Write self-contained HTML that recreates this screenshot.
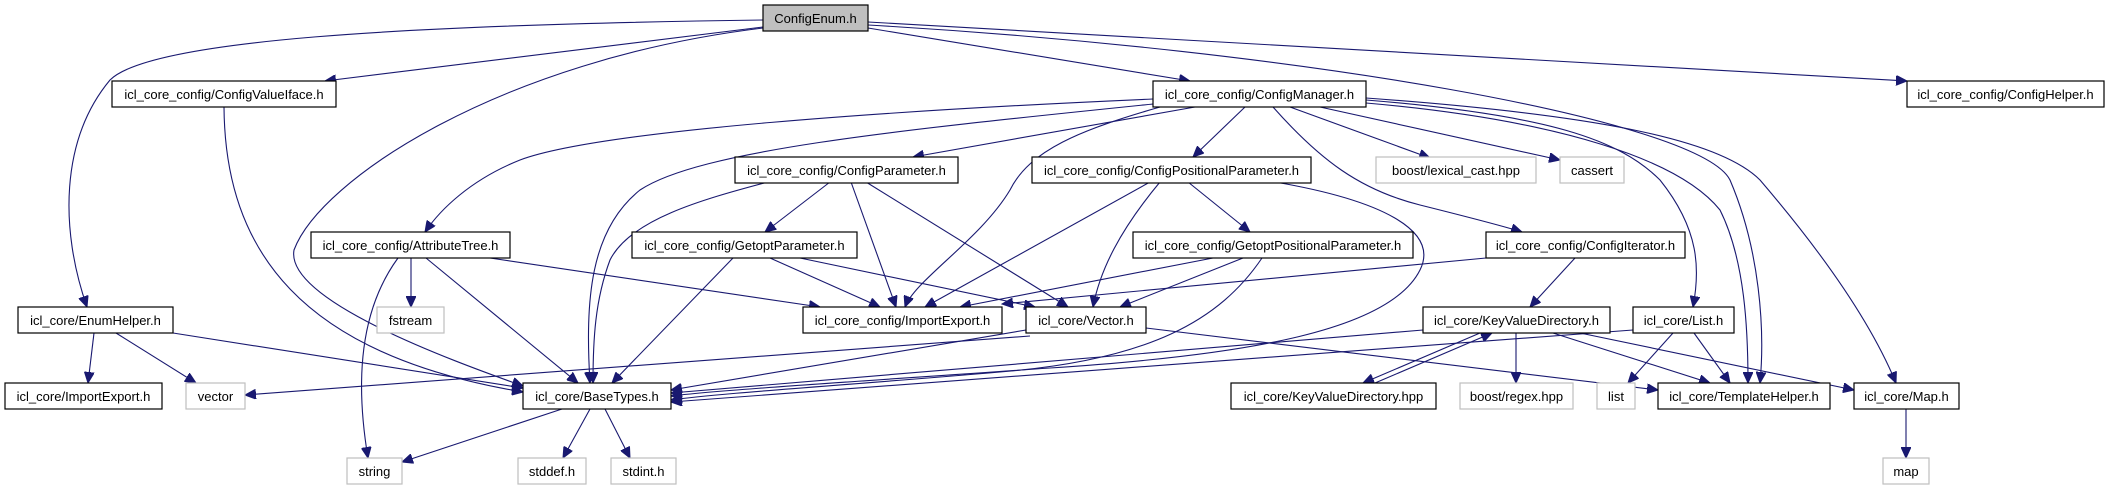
<!DOCTYPE html>
<html><head><meta charset="utf-8"><style>
html,body{margin:0;padding:0;background:#fff}
svg{display:block}
text{font-family:"Liberation Sans",sans-serif;font-size:13px;fill:#000}
.e{fill:none;stroke:#191970;stroke-width:1.1}
.b{fill:#fff;stroke:#000;stroke-width:1.2}
.g{fill:#fff;stroke:#bfbfbf;stroke-width:1.2}
</style></head><body>
<svg width="2123" height="485" viewBox="0 0 2123 485" xmlns="http://www.w3.org/2000/svg">
<defs><marker id="a" markerUnits="userSpaceOnUse" markerWidth="12" markerHeight="10" refX="11" refY="5" orient="auto"><path d="M0,0 L11,5 L0,10 z" fill="#191970" stroke="#191970"/></marker></defs>
<g class="e" marker-end="url(#a)">
<path d="M763,20 C400,25 150,40 110,80 C60,140 60,230 87,307"/>
<path d="M763,27 L325,81"/>
<path d="M763,28 C500,60 320,180 294,250 C285,300 450,360 523,386"/>
<path d="M868,28 L1190,81"/>
<path d="M868,22 L1907,81"/>
<path d="M868,25 C1300,50 1700,120 1730,180 C1760,250 1765,330 1760,383"/>
<path d="M224,107 C225,250 300,355 523,392"/>
<path d="M1153,99 C900,110 600,130 520,160 C470,180 440,210 425,232"/>
<path d="M1153,104 C900,130 700,150 640,190 C590,230 585,300 590,383"/>
<path d="M1160,107 C1080,130 1030,150 1010,190 C980,240 915,280 905,307"/>
<path d="M1195,107 L913,157"/>
<path d="M1245,107 L1193,157"/>
<path d="M1290,107 L1430,158"/>
<path d="M1320,107 L1560,160"/>
<path d="M1273,107 C1320,160 1360,190 1420,205 C1460,215 1500,225 1522,232"/>
<path d="M1366,100 C1550,115 1620,140 1660,180 C1700,230 1700,270 1693,307"/>
<path d="M1366,103 C1560,120 1680,160 1720,210 C1745,260 1748,330 1748,383"/>
<path d="M1366,98 C1600,115 1720,140 1760,180 C1820,250 1870,320 1896,383"/>
<path d="M830,182 L765,232"/>
<path d="M851,182 L896,307"/>
<path d="M866,182 L1068,307"/>
<path d="M768,182 C700,200 630,220 610,260 C595,300 593,340 593,383"/>
<path d="M1150,182 L925,307"/>
<path d="M1160,182 C1120,230 1100,270 1093,307"/>
<path d="M1188,182 L1250,232"/>
<path d="M1275,182 C1380,200 1440,230 1420,270 C1390,330 1250,355 1050,368 C850,382 720,390 671,396"/>
<path d="M411,258 L411,307"/>
<path d="M398,258 C360,310 355,380 368,458"/>
<path d="M426,258 L578,383"/>
<path d="M490,258 L820,307"/>
<path d="M770,258 L880,307"/>
<path d="M800,258 L1035,307"/>
<path d="M733,258 L612,383"/>
<path d="M1213,258 L960,307"/>
<path d="M1243,258 L1120,307"/>
<path d="M1262,258 C1220,320 1150,360 1000,372 C850,385 720,393 671,400"/>
<path d="M1486,258 L1002,304"/>
<path d="M1575,258 L1530,307"/>
<path d="M94,333 L88,383"/>
<path d="M116,333 L196,383"/>
<path d="M173,333 L523,388"/>
<path d="M1026,330 L671,390"/>
<path d="M1030,336 L245,395"/>
<path d="M1146,328 L1658,390"/>
<path d="M1423,330 L671,393"/>
<path d="M1516,333 L1516,383"/>
<path d="M1553,333 L1710,383"/>
<path d="M1580,333 L1854,390"/>
<path d="M1480,333 L1363,383"/>
<path d="M1375,383 L1492,333"/>
<path d="M1673,333 L1628,383"/>
<path d="M1694,333 L1730,383"/>
<path d="M1633,330 L671,402"/>
<path d="M562,409 L402,462"/>
<path d="M590,409 L563,458"/>
<path d="M605,409 L630,458"/>
<path d="M1906,409 L1906,458"/>
</g>
<g>
<rect x="763" y="5" width="105" height="26" fill="#bfbfbf" stroke="#000" stroke-width="1.2"/><text x="815.5" y="23" text-anchor="middle">ConfigEnum.h</text>
<rect class="b" x="112" y="81" width="224" height="26"/><text x="224" y="99" text-anchor="middle">icl_core_config/ConfigValueIface.h</text>
<rect class="b" x="1153" y="81" width="213" height="26"/><text x="1259.5" y="99" text-anchor="middle">icl_core_config/ConfigManager.h</text>
<rect class="b" x="1907" y="81" width="197" height="26"/><text x="2005.5" y="99" text-anchor="middle">icl_core_config/ConfigHelper.h</text>
<rect class="b" x="735" y="157" width="223" height="26"/><text x="846.5" y="175" text-anchor="middle">icl_core_config/ConfigParameter.h</text>
<rect class="b" x="1032" y="157" width="279" height="26"/><text x="1171.5" y="175" text-anchor="middle">icl_core_config/ConfigPositionalParameter.h</text>
<rect class="g" x="1376" y="157" width="160" height="26"/><text x="1456" y="175" text-anchor="middle">boost/lexical_cast.hpp</text>
<rect class="g" x="1560" y="157" width="64" height="26"/><text x="1592" y="175" text-anchor="middle">cassert</text>
<rect class="b" x="311" y="232" width="199" height="26"/><text x="410.5" y="250" text-anchor="middle">icl_core_config/AttributeTree.h</text>
<rect class="b" x="632" y="232" width="225" height="26"/><text x="744.5" y="250" text-anchor="middle">icl_core_config/GetoptParameter.h</text>
<rect class="b" x="1133" y="232" width="280" height="26"/><text x="1273" y="250" text-anchor="middle">icl_core_config/GetoptPositionalParameter.h</text>
<rect class="b" x="1486" y="232" width="199" height="26"/><text x="1585.5" y="250" text-anchor="middle">icl_core_config/ConfigIterator.h</text>
<rect class="b" x="18" y="307" width="155" height="26"/><text x="95.5" y="325" text-anchor="middle">icl_core/EnumHelper.h</text>
<rect class="g" x="377" y="307" width="67" height="26"/><text x="410.5" y="325" text-anchor="middle">fstream</text>
<rect class="b" x="803" y="307" width="199" height="26"/><text x="902.5" y="325" text-anchor="middle">icl_core_config/ImportExport.h</text>
<rect class="b" x="1026" y="307" width="120" height="26"/><text x="1086" y="325" text-anchor="middle">icl_core/Vector.h</text>
<rect class="b" x="1423" y="307" width="187" height="26"/><text x="1516.5" y="325" text-anchor="middle">icl_core/KeyValueDirectory.h</text>
<rect class="b" x="1633" y="307" width="101" height="26"/><text x="1683.5" y="325" text-anchor="middle">icl_core/List.h</text>
<rect class="b" x="5" y="383" width="157" height="26"/><text x="83.5" y="401" text-anchor="middle">icl_core/ImportExport.h</text>
<rect class="g" x="186" y="383" width="59" height="26"/><text x="215.5" y="401" text-anchor="middle">vector</text>
<rect class="b" x="523" y="383" width="148" height="26"/><text x="597" y="401" text-anchor="middle">icl_core/BaseTypes.h</text>
<rect class="b" x="1231" y="383" width="205" height="26"/><text x="1333.5" y="401" text-anchor="middle">icl_core/KeyValueDirectory.hpp</text>
<rect class="g" x="1460" y="383" width="113" height="26"/><text x="1516.5" y="401" text-anchor="middle">boost/regex.hpp</text>
<rect class="g" x="1597" y="383" width="38" height="26"/><text x="1616" y="401" text-anchor="middle">list</text>
<rect class="b" x="1658" y="383" width="172" height="26"/><text x="1744" y="401" text-anchor="middle">icl_core/TemplateHelper.h</text>
<rect class="b" x="1854" y="383" width="105" height="26"/><text x="1906.5" y="401" text-anchor="middle">icl_core/Map.h</text>
<rect class="g" x="347" y="458" width="55" height="26"/><text x="374.5" y="476" text-anchor="middle">string</text>
<rect class="g" x="518" y="458" width="68" height="26"/><text x="552" y="476" text-anchor="middle">stddef.h</text>
<rect class="g" x="611" y="458" width="65" height="26"/><text x="643.5" y="476" text-anchor="middle">stdint.h</text>
<rect class="g" x="1883" y="458" width="46" height="26"/><text x="1906" y="476" text-anchor="middle">map</text>
</g>
</svg>
</body></html>
